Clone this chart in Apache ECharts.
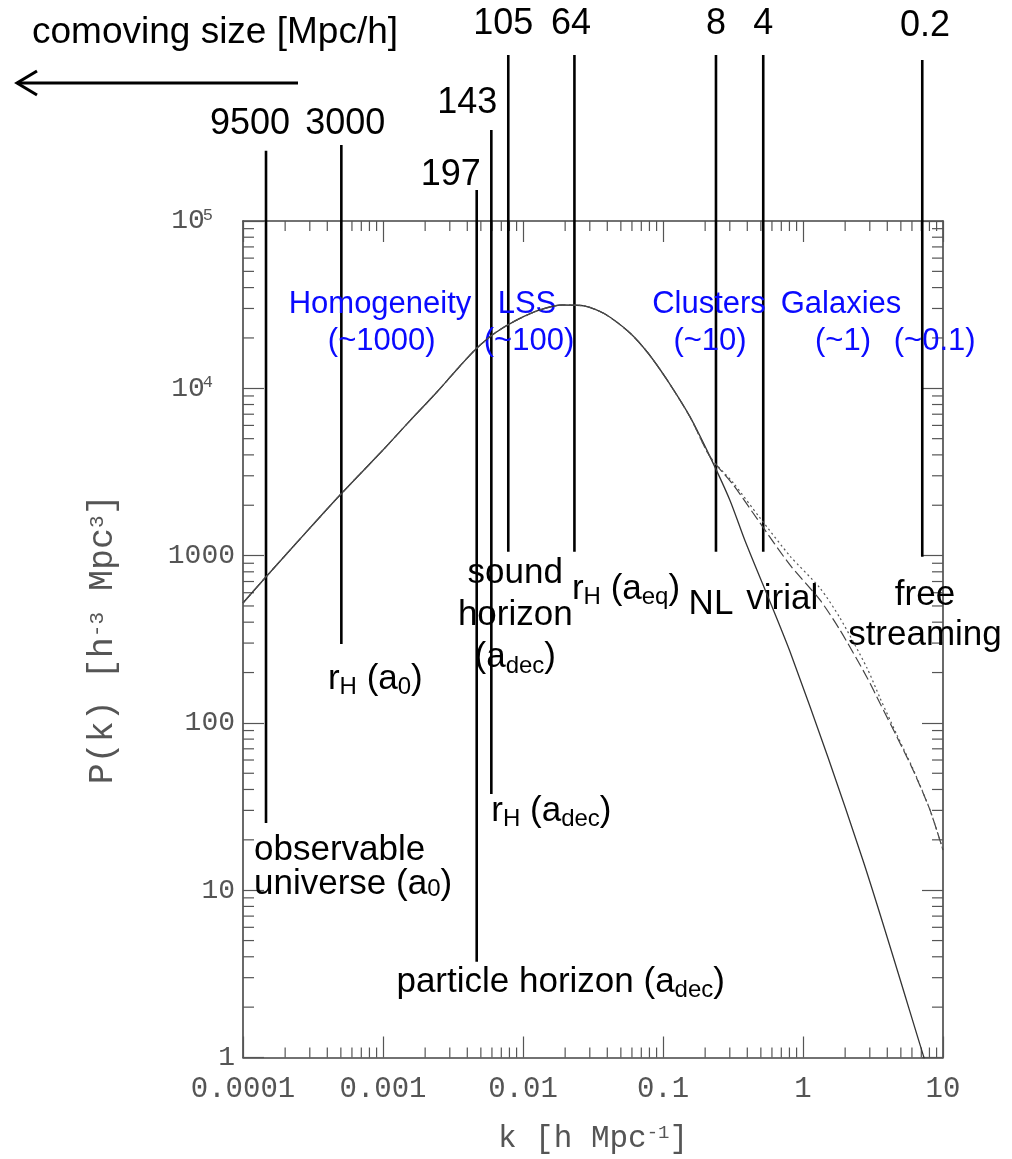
<!DOCTYPE html>
<html>
<head>
<meta charset="utf-8">
<script src="https://cdn.jsdelivr.net/npm/echarts@6/dist/echarts.min.js"></script>
<style>
  html, body { margin: 0; padding: 0; background: #fff; }
  #chart { width: 1012px; height: 1159px; }
</style>
</head>
<body>
<div id="chart"></div>
<script>
// ---- axis tick labels ----
const xTickLabels = ['0.0001', '0.001', '0.01', '0.1', '1', '10'];
const yTickLabels = ['1', '10', '100', '1000', '10{sup|4}', '10{sup|5}'];

// ---- power spectrum P(k): large scales, common to all three curves (k <= 0.217) ----
const kLow = [1e-4, 1.436e-4, 2.553e-4, 4.93e-4, 1e-3, 1.56e-3, 2.43e-3, 3.55e-3, 4.69e-3, 6.31e-3,
              9.06e-3, 0.0132, 0.019, 0.0277, 0.0385, 0.0581, 0.0781, 0.107, 0.156, 0.217];
const pLow = [521, 735, 1256, 2301, 4275, 6410, 9510, 13600, 17420, 21420,
              25640, 29400, 31480, 31030, 27810, 21420, 16260, 11220, 6745, 3890];

// linear spectrum, small scales
const kLinearHigh = [0.301, 0.386, 0.834, 2.68, 7.31, 10];
const pLinearHigh = [2135, 1222, 248, 15.1, 1, 0.42];

// non-linear spectra, small scales
const kNonlinearHigh = [0.316, 0.493, 0.807, 1.322, 1.837, 2.865, 3.548, 4.69, 6.11, 8.07, 10];
const pDashedHigh = [2663, 1567, 879, 543, 359, 187, 131, 82.4, 52.3, 30.2, 17.4];
const pDottedHigh = [2735, 1679, 995, 640, 424, 213, 141, 84.7, 53, 30.2, 17.4];

// ---- characteristic scales ----
const markerK = [1.46e-4, 5.04e-4, 4.67e-3, 5.94e-3, 7.85e-3, 0.0233, 0.239, 0.52, 7.11];
const markerSize = ['9500', '3000', '197', '143', '105', '64', '8', '4', '0.2'];
const markerName = [
  '{m|observable}\n{m|universe (a}{s|0}{m|)}',
  '{m|r}{s|H}{m| (a}{s|0}{m|)}',
  '{m|particle horizon (a}{s|dec}{m|)}',
  '{m|r}{s|H}{m| (a}{s|dec}{m|)}',
  '{m|sound}\n{m|horizon}\n{m|(a}{s|dec}{m|)}',
  '{m|r}{s|H}{m| (a}{s|eq}{m|)}',
  '{m|NL}',
  '{m|virial}',
  '{m|free}\n{m|streaming}'
];

// ---- regimes ----
const regionNames = ['Homogeneity', 'LSS', 'Clusters', 'Galaxies'];
const regionScales = ['(~1000)', '(~100)', '(~10)', '(~1)', '(~0.1)'];

// ---- layout (not data): leader-line extents in log10 P, label offsets in px ----
const markerTopLog = [5.420, 5.454, 5.185, 5.544, 5.992, 5.992, 5.992, 5.992, 5.962];
const markerBottomLog = [1.402, 2.472, 0.573, 1.575, 3.023, 3.023, 3.023, 3.023, 2.993];
const sizeOffset = [[-16, -27], [4, -21], [-26, -15], [-24, -27], [-5, -31], [-3.5, -31], [0, -31], [0, -31], [2.7, -34]];
const nameLayout = [
  { align: 'left', dx: -12, dy: 10, lh: 34 },
  { align: 'center', dx: 34, dy: 15, lh: 40 },
  { align: 'center', dx: 84, dy: 1, lh: 40 },
  { align: 'left', dx: 0, dy: -3, lh: 40 },
  { align: 'center', dx: 7, dy: 1, lh: 42 },
  { align: 'left', dx: -2.5, dy: 18, lh: 40 },
  { align: 'center', dx: -5, dy: 33, lh: 40 },
  { align: 'center', dx: 19, dy: 28, lh: 40 },
  { align: 'center', dx: 2.7, dy: 19, lh: 40 }
];
const regionNameK = [9.52e-4, 0.01068, 0.2131, 1.868];
const regionScaleK = [9.79e-4, 0.01104, 0.2167, 1.931, 8.72];
const regionNameRowLog = 4.502;
const regionScaleRowLog = 4.281;

const SANS = '"Liberation Sans", Arial, sans-serif';
const AXF = '"Liberation Mono", "Courier New", monospace';
const AXC = '#555';
const X_MIN = 1e-4, X_MAX = 10, Y_MIN = 1, Y_MAX = 1e5;

const lowPairs = kLow.map((k, i) => [k, pLow[i]]);
const linearData = lowPairs.concat(kLinearHigh.map((k, i) => [k, pLinearHigh[i]]));
const dashedData = lowPairs.concat(kNonlinearHigh.map((k, i) => [k, pDashedHigh[i]]));
const dottedData = lowPairs.concat(kNonlinearHigh.map((k, i) => [k, pDottedHigh[i]]));

// minor log ticks (2..9 within each decade)
const minorX = [], minorY = [];
for (let d = -4; d < 1; d++) for (let m = 2; m <= 9; m++) minorX.push([m * Math.pow(10, d), Y_MIN]);
for (let d = 0; d < 5; d++) for (let m = 2; m <= 9; m++) minorY.push([X_MIN, m * Math.pow(10, d)]);

function tickLine(x1, y1, x2, y2) {
  return { type: 'line', shape: { x1, y1, x2, y2 }, style: { stroke: AXC, lineWidth: 1.2 } };
}

function renderMinorX(params, api) {
  const k = api.value(0);
  const b = api.coord([k, Y_MIN]);
  const t = api.coord([k, Y_MAX]);
  return { type: 'group', children: [tickLine(b[0], b[1], b[0], b[1] - 10), tickLine(t[0], t[1], t[0], t[1] + 10)] };
}
function renderMinorY(params, api) {
  const p = api.value(1);
  const l = api.coord([X_MIN, p]);
  const r = api.coord([X_MAX, p]);
  return { type: 'group', children: [tickLine(l[0], l[1], l[0] + 11, l[1]), tickLine(r[0], r[1], r[0] - 11, r[1])] };
}

function nameRich(lh) {
  return {
    m: { fontSize: 35, fontFamily: SANS, lineHeight: lh, fill: '#000' },
    s: { fontSize: 24, fontFamily: SANS, lineHeight: lh - 26, verticalAlign: 'bottom', fill: '#000' }
  };
}

function renderMarker(params, api) {
  const i = params.dataIndex;
  const k = api.value(0);
  const top = api.coord([k, api.value(1)]);
  const bot = api.coord([k, api.value(2)]);
  const so = sizeOffset[i];
  const nl = nameLayout[i];
  return {
    type: 'group',
    children: [
      { type: 'line', shape: { x1: top[0], y1: top[1], x2: bot[0], y2: bot[1] },
        style: { stroke: '#000', lineWidth: 2.6 } },
      { type: 'text', x: top[0] + so[0], y: top[1] + so[1],
        style: { text: markerSize[i], fontSize: 36, fontFamily: SANS, fill: '#000',
                 align: 'center', verticalAlign: 'middle' } },
      { type: 'text', x: bot[0] + nl.dx, y: bot[1] + nl.dy,
        style: { text: markerName[i], rich: nameRich(nl.lh), fontSize: 35, fontFamily: SANS,
                 fill: '#000', align: nl.align, verticalAlign: 'top' } }
    ]
  };
}

function regionRenderer(texts) {
  return function (params, api) {
    const p = api.coord([api.value(0), api.value(1)]);
    return {
      type: 'text', x: p[0], y: p[1],
      style: { text: texts[params.dataIndex], fontSize: 31, fontFamily: SANS, fill: '#0a0aff',
               align: 'center', verticalAlign: 'middle' }
    };
  };
}

function logAxis(extra) {
  return Object.assign({
    type: 'log', logBase: 10,
    splitLine: { show: false },
    axisLine: { show: true, lineStyle: { color: '#444', width: 1.6 } },
    axisTick: { show: true, inside: true, length: 21, lineStyle: { color: AXC, width: 1.2 } },
    minorTick: { show: false }
  }, extra);
}

const curveStyle = { symbol: 'none', smooth: 0.25, clip: true };

const chart = echarts.init(document.getElementById('chart'), null, { renderer: 'canvas' });

chart.setOption({
  animation: false,
  backgroundColor: '#fff',
  grid: { left: 243, right: 69, top: 221, bottom: 101.5, containLabel: false },
  xAxis: [
    logAxis({
      min: X_MIN, max: X_MAX, splitNumber: 5, position: 'bottom',
      axisLabel: {
        margin: 17, fontSize: 29, fontFamily: AXF, color: AXC,
        formatter: v => xTickLabels[Math.round(Math.log10(v)) + 4]
      },
      name: '{a|k [h Mpc}{sup|-1}{a|]}',
      nameLocation: 'middle', nameGap: 66,
      nameTextStyle: {
        rich: {
          a: { fontSize: 31, fontFamily: AXF, color: AXC, lineHeight: 30 },
          sup: { fontSize: 19, fontFamily: AXF, color: AXC, lineHeight: 10, verticalAlign: 'top' }
        }
      }
    }),
    logAxis({ min: X_MIN, max: X_MAX, splitNumber: 5, position: 'top', axisLabel: { show: false } })
  ],
  yAxis: [
    logAxis({
      min: Y_MIN, max: Y_MAX, splitNumber: 5, position: 'left',
      axisLabel: {
        margin: 8, fontSize: 28, fontFamily: AXF, color: AXC, lineHeight: 28,
        formatter: v => yTickLabels[Math.round(Math.log10(v))],
        rich: { sup: { fontSize: 17, fontFamily: AXF, color: AXC, lineHeight: 10, verticalAlign: 'top',
                       padding: [0, 22, 0, -2] } }
      },
      name: '{a|P(k) [h}{sup|-3}{a| Mpc}{sup|3}{a|]}',
      nameLocation: 'middle', nameGap: 124,
      nameTextStyle: {
        rich: {
          a: { fontSize: 35, fontFamily: AXF, color: AXC, lineHeight: 32 },
          sup: { fontSize: 21, fontFamily: AXF, color: AXC, lineHeight: 12, verticalAlign: 'top' }
        }
      }
    }),
    logAxis({ min: Y_MIN, max: Y_MAX, splitNumber: 5, position: 'right', axisLabel: { show: false } })
  ],
  graphic: [
    { type: 'text', left: 32, top: 14,
      style: { text: 'comoving size [Mpc/h]', fontSize: 37, fontFamily: SANS, fill: '#000' } },
    { type: 'polyline', shape: { points: [[298, 83], [17, 83]] },
      style: { stroke: '#000', lineWidth: 3, fill: null } },
    { type: 'polyline', shape: { points: [[37, 71], [17, 83], [37, 95]] },
      style: { stroke: '#000', lineWidth: 3, fill: null } }
  ],
  series: [
    { type: 'custom', name: 'minor ticks x', renderItem: renderMinorX, data: minorX, clip: false, silent: true },
    { type: 'custom', name: 'minor ticks y', renderItem: renderMinorY, data: minorY, clip: false, silent: true },
    Object.assign({ type: 'line', name: 'linear', data: linearData,
      lineStyle: { color: '#333', width: 1.3 } }, curveStyle),
    Object.assign({ type: 'line', name: 'non-linear', data: dashedData,
      lineStyle: { color: '#444', width: 1.2, type: [11, 4] } }, curveStyle),
    Object.assign({ type: 'line', name: 'non-linear (alt)', data: dottedData,
      lineStyle: { color: '#555', width: 1.2, type: [2, 3] } }, curveStyle),
    {
      type: 'custom', name: 'scales', renderItem: renderMarker, clip: false, silent: true,
      encode: { x: 0, y: [1, 2] },
      data: markerK.map((k, i) => [k, Math.pow(10, markerTopLog[i]), Math.pow(10, markerBottomLog[i])])
    },
    {
      type: 'custom', name: 'regimes', renderItem: regionRenderer(regionNames), clip: false, silent: true,
      data: regionNameK.map(k => [k, Math.pow(10, regionNameRowLog)])
    },
    {
      type: 'custom', name: 'regime sizes', renderItem: regionRenderer(regionScales), clip: false, silent: true,
      data: regionScaleK.map(k => [k, Math.pow(10, regionScaleRowLog)])
    }
  ]
});
</script>
</body>
</html>
